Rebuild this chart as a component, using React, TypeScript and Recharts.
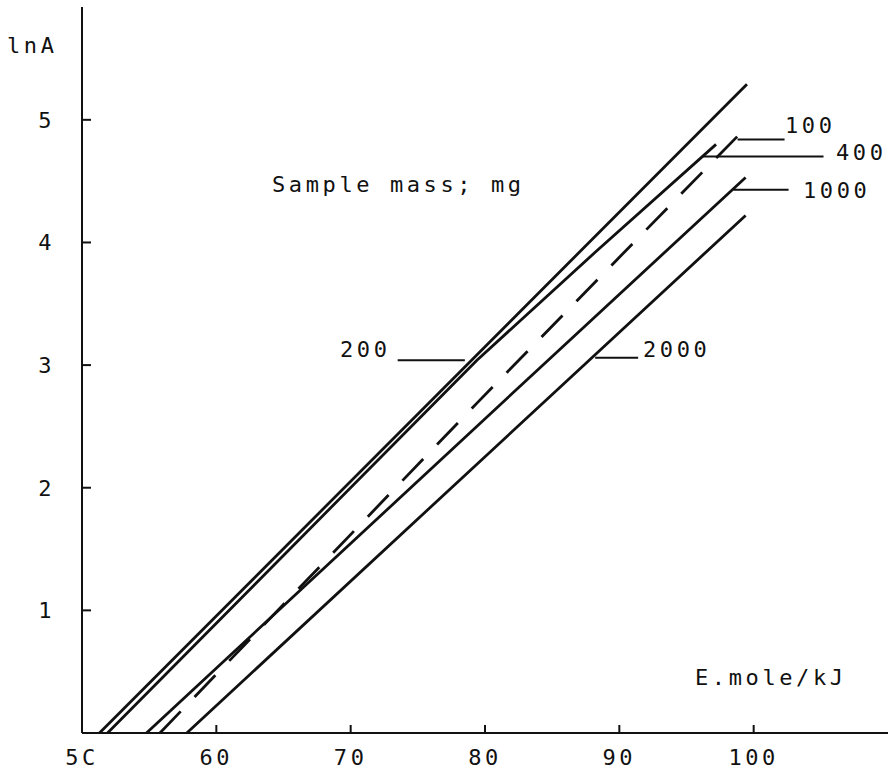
import { LineChart, Line, XAxis, YAxis, ReferenceLine } from 'recharts';

// x = E (kJ/mol), y = lnA
const s200 = [
    { x: 51.3, y: 0 },
    { x: 79.0, y: 3.04 },
    { x: 99.5, y: 5.29 }
];
const s400 = [
    { x: 51.9, y: 0 },
    { x: 79.4, y: 3.04 },
    { x: 88.2, y: 3.92 },
    { x: 97.2, y: 4.8 }
];
const s100 = [
    { x: 55.8, y: 0 },
    { x: 79.4, y: 2.69 },
    { x: 99.1, y: 4.9 }
];
const s1000 = [
    { x: 54.8, y: 0 },
    { x: 84.8, y: 3.05 },
    { x: 99.4, y: 4.53 }
];
const s2000 = [
    { x: 57.8, y: 0 },
    { x: 84.8, y: 2.74 },
    { x: 99.4, y: 4.22 }
];

const xTicks = [50, 60, 70, 80, 90, 100];
const xTickLabels = ['5C', '60', '70', '80', '90', '100'];
const yTicks = [1, 2, 3, 4, 5];

// leader lines from the mass labels to their curves
const leaders = [
    { x1: 98.8, x2: 102.3, y: 4.84 },
    { x1: 96.2, x2: 105.2, y: 4.7 },
    { x1: 98.5, x2: 102.6, y: 4.43 },
    { x1: 73.5, x2: 78.5, y: 3.04 },
    { x1: 88.2, x2: 91.4, y: 3.06 }
];

const ink = '#111';
const font = { fontFamily: '"DejaVu Sans Mono", monospace', fontSize: 22, letterSpacing: 3.6, fill: ink };

const App = () => {
    const series = [
        { key: 's200', data: s200 },
        { key: 's400', data: s400 },
        { key: 's100', data: s100, dash: '30 20' },
        { key: 's1000', data: s1000 },
        { key: 's2000', data: s2000 }
    ];

    return (
        <div style={{ position: 'relative', width: 888, height: 774, background: '#fff' }}>
            <style>{'body { margin: 0; }'}</style>
            <LineChart width={888} height={774} margin={{ top: 7, right: 0, bottom: 0, left: 0 }}>
                <XAxis
                    type="number"
                    dataKey="x"
                    domain={[50, 110]}
                    ticks={xTicks}
                    tickFormatter={(v: number) => xTickLabels[xTicks.indexOf(v)] ?? String(v)}
                    height={41}
                    allowDataOverflow
                    stroke={ink}
                    strokeWidth={2}
                    tickSize={-8}
                    tickMargin={24}
                    tick={{ ...font }}
                />
                <YAxis
                    type="number"
                    dataKey="y"
                    domain={[0, 5.92]}
                    ticks={yTicks}
                    width={82}
                    allowDataOverflow
                    stroke={ink}
                    strokeWidth={2}
                    tickSize={-9}
                    tickMargin={36}
                    tick={{ ...font }}
                />
                {leaders.map((l, i) => (
                    <ReferenceLine
                        key={i}
                        segment={[{ x: l.x1, y: l.y }, { x: l.x2, y: l.y }]}
                        stroke={ink}
                        strokeWidth={2}
                        ifOverflow="visible"
                    />
                ))}
                {series.map(s => (
                    <Line
                        key={s.key}
                        data={s.data}
                        dataKey="y"
                        type="linear"
                        stroke={ink}
                        strokeWidth={2.8}
                        strokeDasharray={s.dash}
                        dot={false}
                        isAnimationActive={false}
                    />
                ))}
            </LineChart>
            <svg width={888} height={774} style={{ position: 'absolute', left: 0, top: 0, pointerEvents: 'none' }}>
                <text x={7} y={53} {...font}>lnA</text>
                <text x={272} y={192} {...font}>Sample mass; mg</text>
                <text x={785} y={133} {...font}>100</text>
                <text x={836} y={160} {...font}>400</text>
                <text x={803} y={198} {...font}>1000</text>
                <text x={340} y={357} {...font}>200</text>
                <text x={643} y={357} {...font}>2000</text>
                <text x={695} y={685} {...font}>E.mole/kJ</text>
            </svg>
        </div>
    );
};

export default App;
